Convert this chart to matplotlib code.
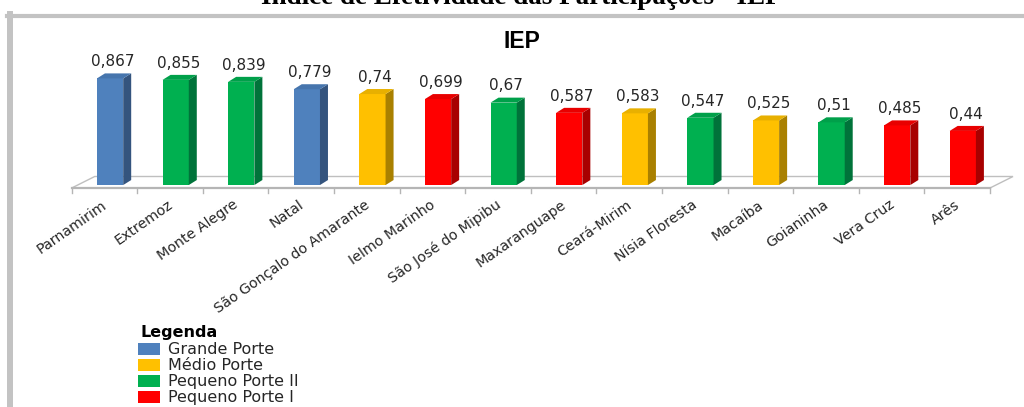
import matplotlib
matplotlib.use("Agg")
import matplotlib.pyplot as plt
from matplotlib.patches import Polygon, Rectangle
from matplotlib.lines import Line2D

# ---- data
municipios = ["Parnamirim", "Extremoz", "Monte Alegre", "Natal",
              "São Gonçalo do Amarante", "Ielmo Marinho", "São José do Mipibu",
              "Maxaranguape", "Ceará-Mirim", "Nísia Floresta", "Macaíba",
              "Goianinha", "Vera Cruz", "Arês"]
iep = [0.867, 0.855, 0.839, 0.779, 0.74, 0.699, 0.67,
       0.587, 0.583, 0.547, 0.525, 0.51, 0.485, 0.44]
porte = ["G", "P2", "P2", "G", "M", "P1", "P2",
         "P1", "M", "P2", "M", "P2", "P1", "P1"]

legend_keys = ["G", "M", "P2", "P1"]
legend_labels = ["Grande Porte", "Médio Porte", "Pequeno Porte II", "Pequeno Porte I"]

# front / side / top colours per size class
colors = {
    "G":  ("#4f81bd", "#34547e", "#4675ad"),
    "M":  ("#ffc000", "#a98000", "#e8b000"),
    "P2": ("#00b050", "#00733a", "#00a04a"),
    "P1": ("#ff0000", "#a80000", "#e80000"),
}

plt.rcParams["font.family"] = ["DejaVu Sans"]

W, H = 1024, 407
fig = plt.figure(figsize=(W / 100, H / 100), dpi=100)

# ---- axes: x in category units, y in IEP units (123 px per unit)
px_per_val = 123.0
y0 = -0.024
left_px, right_px = 71.7, 990.0
bottom_px = H - 188
ax = fig.add_axes([left_px / W, bottom_px / H,
                   (right_px - left_px) / W, (1.0 - y0) * px_per_val / H])
n = len(iep)
ax.set_xlim(0, n)
ax.set_ylim(y0, 1.0)
ax.axis("off")

cat_px = (right_px - left_px) / n
dx_bar = 8 / cat_px
dy_bar = 5 / px_per_val
dx_floor = 23 / cat_px
dy_floor = 11.5 / px_per_val

# floor
floor = Polygon([(0, y0), (n, y0), (n + dx_floor, y0 + dy_floor), (dx_floor, y0 + dy_floor)],
                closed=True, facecolor="white", edgecolor="#bfbfbf", lw=1.0,
                clip_on=False, zorder=1)
ax.add_patch(floor)
ax.add_line(Line2D([0, n], [y0, y0], color="#b5b5b5", lw=1.6, clip_on=False, zorder=1))
tick_len = 5 / px_per_val
for i in range(n + 1):
    ax.add_line(Line2D([i, i], [y0, y0 - tick_len], color="#b5b5b5", lw=1.0,
                       clip_on=False, zorder=1))

# 3D bars
w = 0.40
for i, (v, p) in enumerate(zip(iep, porte)):
    front, side, top = colors[p]
    x0 = i + 0.385
    x1 = x0 + w
    ax.add_patch(Rectangle((x0, 0), w, v, facecolor=front, edgecolor="none",
                           clip_on=False, zorder=3))
    ax.add_patch(Polygon([(x1, 0), (x1 + dx_bar, dy_bar), (x1 + dx_bar, v + dy_bar), (x1, v)],
                         closed=True, facecolor=side, edgecolor="none", clip_on=False, zorder=3))
    ax.add_patch(Polygon([(x0, v), (x1, v), (x1 + dx_bar, v + dy_bar), (x0 + dx_bar, v + dy_bar)],
                         closed=True, facecolor=top, edgecolor="none", clip_on=False, zorder=3))
    ax.annotate(f"{v:g}".replace(".", ","), (x0 + w / 2 + dx_bar / 3, v + dy_bar),
                xytext=(0, 3), textcoords="offset points", ha="center", va="bottom",
                fontsize=11, color="#262626", annotation_clip=False)

# category labels
for i, name in enumerate(municipios):
    ax.annotate(name, (i + 0.5, y0), xytext=(-2, -7), textcoords="offset points",
                ha="right", va="top", rotation=35, rotation_mode="anchor",
                fontsize=10.3, color="#262626", annotation_clip=False)

# ---- titles
fig.text(521 / W, 1 - 3.5 / H, "Índice de Efetividade das Participações - IEP",
         ha="center", va="baseline", fontsize=19.5, fontweight="bold",
         family="Liberation Serif", color="black")
fig.text(522 / W, 1 - 42 / H, "IEP", ha="center", va="center",
         fontsize=16.5, fontweight="bold", family="Liberation Sans", color="black")

# ---- frame
fig.add_artist(Line2D([7 / W, 1], [1 - 15.5 / H, 1 - 15.5 / H], color="#c3c3c3", lw=3))
fig.add_artist(Line2D([10 / W, 10 / W], [0, 1 - 14 / H], color="#c3c3c3", lw=4.3))

# ---- legend
fig.text(140 / W, 1 - 333 / H, "Legenda", ha="left", va="center",
         fontsize=11.5, fontweight="bold", color="black")
for k, (key, lab) in enumerate(zip(legend_keys, legend_labels)):
    yc = 349 + 16 * k
    fig.add_artist(Rectangle((138 / W, 1 - (yc + 6) / H), 22 / W, 12 / H,
                             facecolor=colors[key][0], edgecolor="none"))
    fig.text(168 / W, 1 - (yc + 0.5) / H, lab, ha="left", va="center",
             fontsize=11.5, color="#262626")

fig.savefig("out.png", dpi=100)
